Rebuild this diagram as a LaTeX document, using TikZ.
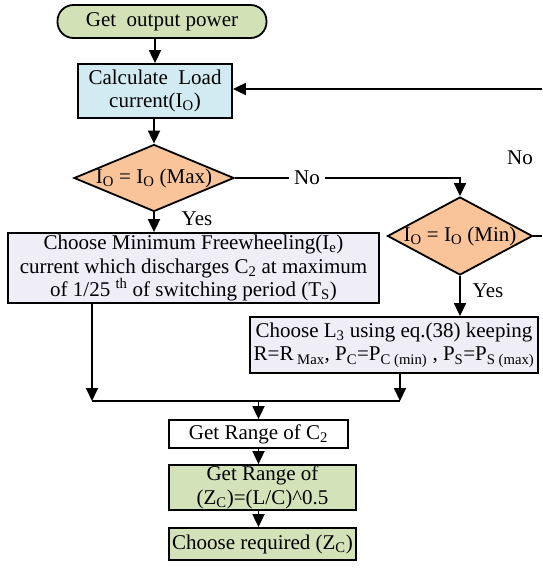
\documentclass[tikz,border=0pt]{standalone}
\usepackage{fontspec}
\setmainfont{Liberation Serif}
\usetikzlibrary{shapes.geometric,arrows.meta}
\definecolor{startgreen}{HTML}{D3E1B6}
\definecolor{calcblue}{HTML}{D2EBF2}
\definecolor{diaorange}{HTML}{F9C49A}
\definecolor{lav}{HTML}{EFEDF6}
\definecolor{greenbox}{HTML}{D4E2B9}
\begin{document}
\begin{tikzpicture}[x=1pt,y=-1pt,
  every node/.style={font=\fontsize{21}{23.5}\selectfont, inner sep=0pt},
  box/.style={draw, line width=1.8pt, align=center},
  dia/.style={draw, diamond, line width=1.8pt, fill=diaorange},
  arr/.style={line width=1.8pt, -{Triangle[width=12pt,length=13pt]}},
  ln/.style={line width=1.8pt}]
\useasboundingbox (0,0) rectangle (542,568);

\node[box, fill=startgreen, rounded corners=16pt, minimum width=209pt, minimum height=33pt] (start) at (162,21.5) {Get\ \ output power};
\node[box, fill=calcblue, minimum width=154pt, minimum height=54pt] (calc) at (155,91) {Calculate\ \ Load\\current(I\textsubscript{O})};

\node[dia, minimum width=160pt, minimum height=67pt] (dmax) at (154,178) {};
\node (tmax) at (dmax) {I\textsubscript{O} = I\textsubscript{O} (Max)};

\node[dia, minimum width=145pt, minimum height=78pt] (dmin) at (460,236) {};
\node (tmin) at (dmin) {I\textsubscript{O} = I\textsubscript{O} (Min)};

\node[box, fill=lav, minimum width=371pt, minimum height=70pt] (b1) at (193.5,268) {Choose Minimum Freewheeling(I\textsubscript{e})\\current which discharges C\textsubscript{2} at maximum\\of 1/25 \textsuperscript{th} of switching period (T\textsubscript{S})};

\node[box, fill=lav, minimum width=288pt, minimum height=56pt] (b2) at (394,345) {Choose L\textsubscript{3} using eq.(38) keeping\\R=R\textsubscript{\ Max}, P\textsubscript{C}=P\textsubscript{C (min)} , P\textsubscript{S}=P\textsubscript{S (max)}};

\node[box, fill=white, minimum width=179pt, minimum height=28pt] (gr) at (258.5,434) {Get Range of C\textsubscript{2}};
\node[box, fill=greenbox, minimum width=187pt, minimum height=45pt] (gz) at (262.5,487.5) {Get Range of\\(Z\textsubscript{C})=(L/C)\^{}0.5};
\node[box, fill=greenbox, minimum width=187pt, minimum height=32pt] (cz) at (262.5,544) {Choose required (Z\textsubscript{C})};

% labels
\node (yes1) at (197,219) {Yes};
\node (yes2) at (488,291) {Yes};
\node (no2) at (520,158) {No};

% connectors
\draw[arr] (calc.north |- start.south) -- (calc.north);
\draw[arr] (dmax.north |- calc.south) -- (dmax.north);
\coordinate (rt) at (542,89);
\draw[arr] (rt) -- (rt -| calc.east);
\draw[arr] (dmax.east) -- node[pos=0.32, fill=white, inner xsep=5pt, inner ysep=2pt] (no1) {No} (dmax.east -| dmin.north) -- (dmin.north);
\coordinate (rm) at (542,236);
\draw[ln] (dmin.east) -- (rm);
\draw[arr] (dmax.south) -- (dmax.south |- b1.north);
\draw[arr] (dmin.south) -- (dmin.south |- b2.north);

\coordinate (mL) at (92,401);
\coordinate (mR) at (400,401);
\draw[arr] (b1.south -| mL) -- (mL);
\draw[arr] (b2.south -| mR) -- (mR);
\draw[ln] (mL) -- (mR);
\draw[arr] (gr.north |- mL) -- (gr.north);
\draw[arr] (gr.south) -- (gr.south |- gz.north);
\draw[arr] (gr.south |- gz.south) -- (gr.south |- cz.north);
\end{tikzpicture}
\end{document}
